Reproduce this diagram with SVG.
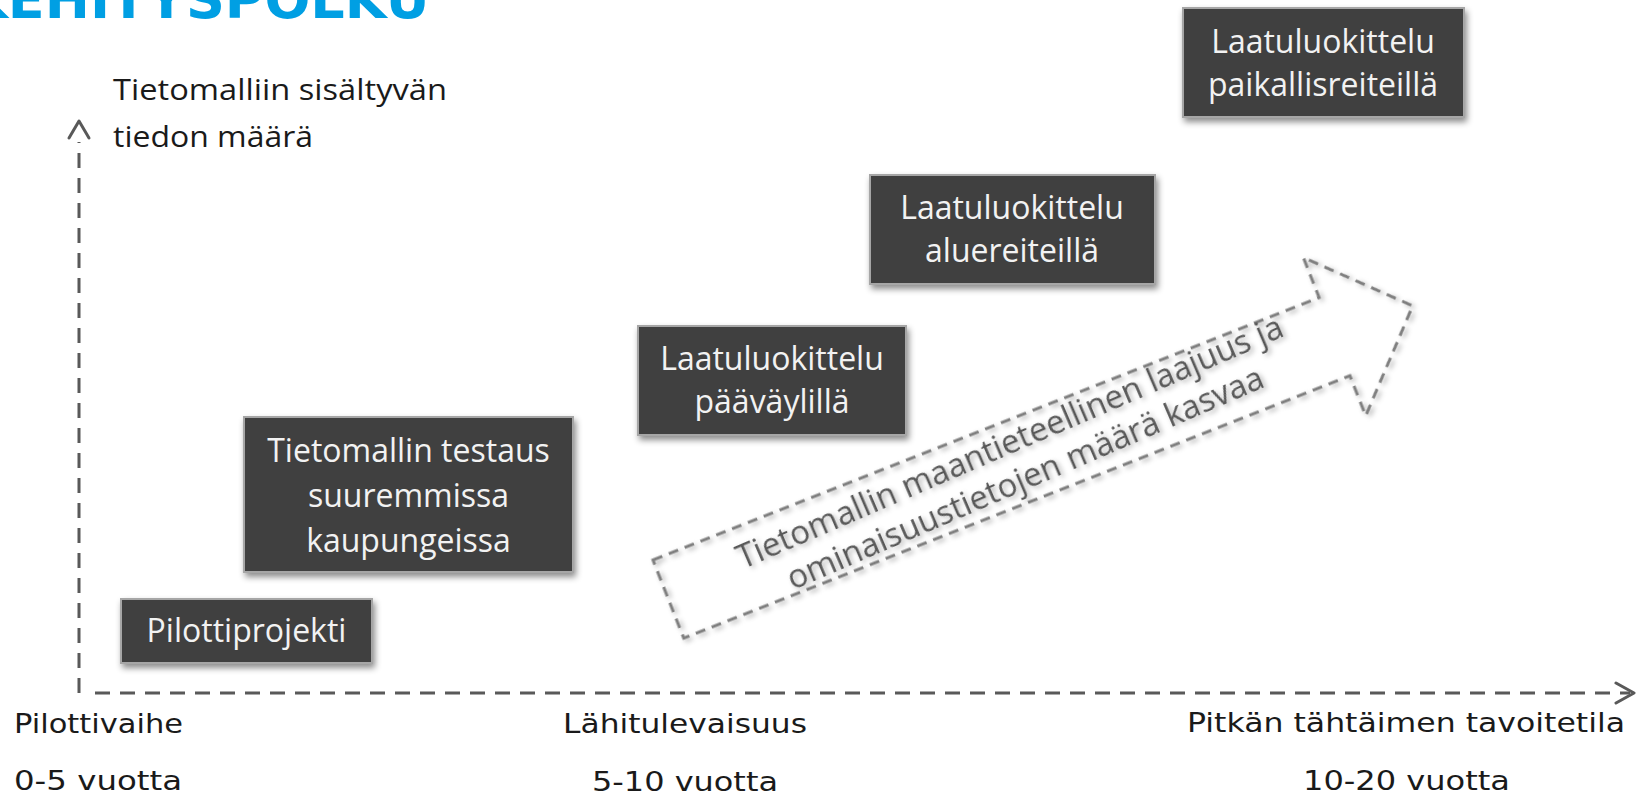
<svg xmlns="http://www.w3.org/2000/svg" width="1636" height="797" viewBox="0 0 1636 797">
<defs>
<style>
.box rect{fill:#404040;stroke:#a6a6a6;stroke-width:2;filter:url(#sh)}
.box text{font-family:"Open Sans","Noto Sans",sans-serif;font-size:32px;fill:#f2f2f2;text-anchor:middle}
.axis{stroke:#595959;stroke-width:3;fill:none;stroke-dasharray:15 10}
.head{stroke:#595959;stroke-width:3;fill:none;stroke-linecap:round;stroke-linejoin:round}
.lbl{font-family:"DejaVu Sans",Verdana,sans-serif;font-size:27px;fill:#1a1a1a}
.ylbl{font-family:"Open Sans","Noto Sans",sans-serif;font-size:29px;fill:#1a1a1a}
.big{stroke:#7f7f7f;stroke-width:3;fill:none;stroke-dasharray:10 7;filter:url(#sh2)}
.bigtxt{font-family:"Open Sans","Noto Sans",sans-serif;font-size:33px;fill:#595959;text-anchor:middle;filter:url(#sh2)}
.title{font-family:"DejaVu Sans",Verdana,sans-serif;font-weight:bold;font-size:54px;fill:#009fe3}
</style>
<filter id="sh" x="-10%" y="-10%" width="130%" height="140%">
<feDropShadow dx="2" dy="4" stdDeviation="3" flood-color="#000" flood-opacity="0.45"/>
</filter>
<filter id="sh2" x="-10%" y="-20%" width="130%" height="150%">
<feDropShadow dx="2" dy="3" stdDeviation="2.5" flood-color="#000" flood-opacity="0.3"/>
</filter>
</defs>
<rect width="1636" height="797" fill="#fff"/>

<text id="title" class="title" x="-34" y="18">KEHITYSPOLKU</text>

<g id="connectors">
<line class="axis" x1="79" y1="693" x2="79" y2="142"/>
<polyline class="head" points="69,138 79,121 89,138"/>
<line class="axis" x1="95" y1="693" x2="1630" y2="693"/>
<polyline class="head" points="1616,683 1634,693 1616,703"/>
</g>

<g id="y-label">
<text class="ylbl" x="113" y="100" textLength="334" lengthAdjust="spacingAndGlyphs">Tietomalliin sisältyvän</text>
<text class="ylbl" x="113" y="147" textLength="200" lengthAdjust="spacingAndGlyphs">tiedon määrä</text>
</g>

<g id="x-labels">
<text class="lbl" x="14" y="733" textLength="169" lengthAdjust="spacingAndGlyphs">Pilottivaihe</text>
<text class="lbl" x="14" y="790" textLength="168" lengthAdjust="spacingAndGlyphs">0-5 vuotta</text>
<text class="lbl" x="563" y="733" textLength="244" lengthAdjust="spacingAndGlyphs">Lähitulevaisuus</text>
<text class="lbl" x="592" y="791" textLength="186" lengthAdjust="spacingAndGlyphs">5-10 vuotta</text>
<text class="lbl" x="1187" y="732" textLength="438" lengthAdjust="spacingAndGlyphs">Pitkän tähtäimen tavoitetila</text>
<text class="lbl" x="1303" y="790" textLength="207" lengthAdjust="spacingAndGlyphs">10-20 vuotta</text>
</g>

<g id="growth-arrow" transform="translate(653,560) rotate(-21.5)">
<polygon class="big" points="0,0 716,0 716,-43 800,42 716,127 716,84 0,84"/>
<g transform="rotate(-1.8 100 55)">
<text class="bigtxt" x="376" y="41">Tietomallin maantieteellinen laajuus ja</text>
<text class="bigtxt" x="376" y="80">ominaisuustietojen määrä kasvaa</text>
</g>
</g>

<g id="node-pilotti" class="box">
<rect x="121" y="599" width="251" height="64"/>
<text x="246.5" y="642">Pilottiprojekti</text>
</g>

<g id="node-testaus" class="box">
<rect x="244" y="417" width="329" height="155"/>
<text x="408.5" y="462">Tietomallin testaus</text>
<text x="408.5" y="507">suuremmissa</text>
<text x="408.5" y="552">kaupungeissa</text>
</g>

<g id="node-paavaylat" class="box">
<rect x="638" y="326" width="268" height="109"/>
<text x="772" y="370">Laatuluokittelu</text>
<text x="772" y="413">pääväylillä</text>
</g>

<g id="node-aluereitit" class="box">
<rect x="870" y="175" width="285" height="109"/>
<text x="1012" y="219">Laatuluokittelu</text>
<text x="1012" y="262">aluereiteillä</text>
</g>

<g id="node-paikallisreitit" class="box">
<rect x="1183" y="8" width="281" height="109"/>
<text x="1323" y="53">Laatuluokittelu</text>
<text x="1323" y="96">paikallisreiteillä</text>
</g>
</svg>
